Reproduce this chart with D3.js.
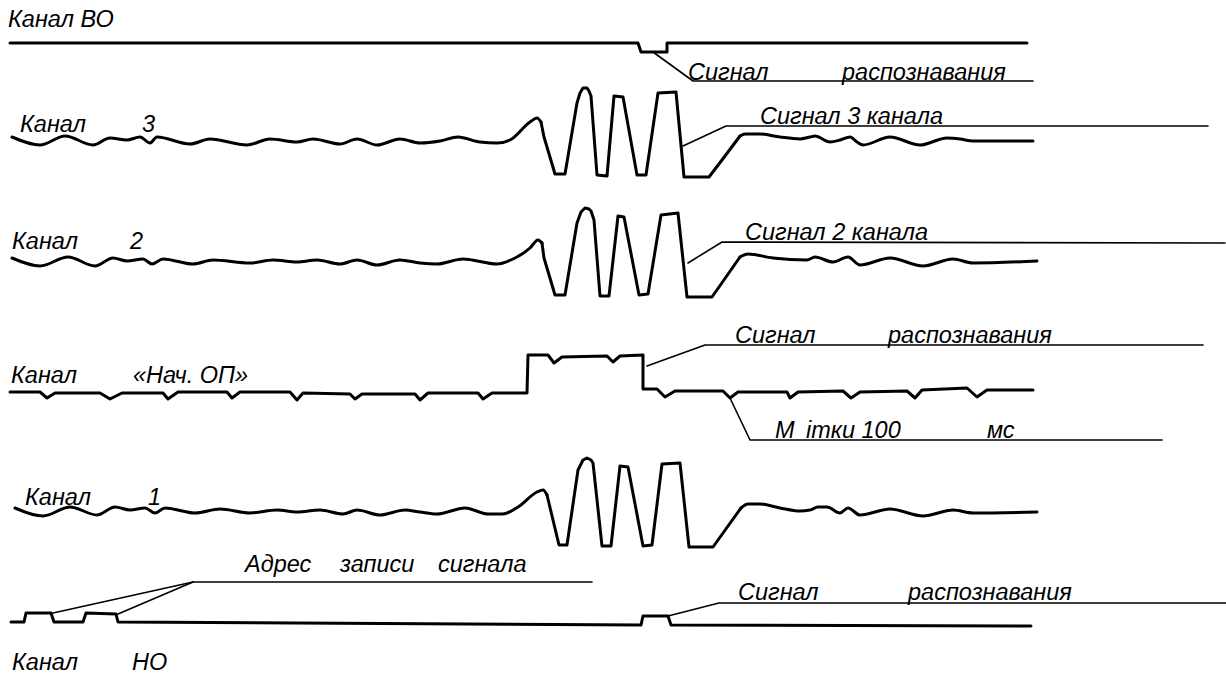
<!DOCTYPE html>
<html>
<head>
<meta charset="utf-8">
<script src="https://cdn.jsdelivr.net/npm/d3@7"></script>
<style>
  html, body { margin: 0; background: #fff; }
  svg text { font-family: "Liberation Sans", Arial, sans-serif; font-style: italic; font-size: 23.5px; fill: #000; }
</style>
</head>
<body>
<div id="view"></div>
<script>
// каналы осциллограммы: [время, амплитуда]
const CHANNELS = ["ВО", "3", "2", "НачОП", "1", "НО"];

const chVO = [[10,0],[638,0],[641,-9],[667,-9],[667,0],[1027,0]];

const ch3 = [[12,4],[40,-4],[65,5],[93,-4],[110,3],[127,1],[140,4],[150,-2],[157,4],[190,-3],[210,2],[247,-4],
  [270,2],[297,-1],[313,2],[340,-3],[357,2],[377,-4],[400,2],[420,-2],[440,0],[458,4],[480,-1],[497,-2],[510,1],
  [530,19],[537,23],[541,19],[544,4],[555,-33],[565,-33],[577,38],[580,48],[583,53],[587,53],[589,50],[591,45],
  [597,-34],[607,-35],[614,45],[623,44],[637,-34],[646,-34],[658,48],[676,49],[684,-36],[709,-36],[722,-19],
  [740,5],[745,7],[760,7],[780,4],[800,2],[810,4],[815,5],[830,-1],[840,1],[850,4],[857,-1],[863,-4],[890,4],
  [920,-4],[947,3],[960,2],[973,0],[1033,0]];

const ch2 = [[12,3],[40,-5],[68,4],[95,-5],[113,3],[127,0],[143,2],[152,-3],[163,2],[193,-3],[213,1],[250,-2],
  [273,1],[297,-1],[317,1],[340,-3],[357,1],[377,-4],[400,1],[420,-2],[437,-3],[463,2],[497,-3],[513,2],[530,13],
  [538,21],[542,18],[544,3],[555,-34],[565,-34],[577,38],[581,49],[585,53],[589,52],[591,50],[594,41],[600,-35],
  [609,-35],[618,45],[624,44],[639,-34],[648,-33],[661,46],[678,48],[687,-36],[712,-36],[740,4],[748,7],[773,3],
  [807,1],[815,4],[833,-1],[848,4],[860,-4],[890,3],[923,-5],[953,2],[973,-2],[1037,0]];

const chStart = [[10,0],[40,0],[47,-6],[55,-1],[100,-1],[110,-7],[122,-1],[163,-1],[168,-7],[178,0],[227,0],
  [232,-6],[240,0],[290,0],[297,-8],[303,-1],[350,-2],[355,-7],[362,-2],[415,-2],[420,-8],[428,-1],[478,-1],
  [483,-7],[492,-1],[527,-1],[528,37],[548,37],[554,29],[562,35],[607,36],[613,30],[620,36],[643,37],[643,3],
  [657,3],[665,-5],[675,1],[723,1],[730,-6],[738,0],[787,0],[790,-6],[798,0],[843,1],[851,-6],[860,0],[907,1],
  [915,-6],[922,2],[967,4],[977,-5],[987,2],[1033,2]];

const ch1 = [[15,3],[43,-5],[70,4],[97,-4],[115,4],[130,1],[145,3],[155,-2],[165,3],[195,-2],[220,2],[250,-2],
  [277,1],[297,-1],[320,1],[343,-3],[357,1],[380,-4],[405,1],[420,-1],[437,-3],[465,3],[488,-3],[503,-3],[518,4],
  [537,19],[543,21],[547,16],[559,-34],[567,-34],[578,41],[583,51],[587,53],[591,51],[593,48],[602,-35],[611,-35],
  [620,45],[628,44],[643,-35],[652,-34],[662,47],[680,48],[689,-36],[713,-36],[741,3],[748,7],[760,7],[780,3],
  [800,0],[810,1],[818,4],[827,4],[840,-2],[848,3],[860,-4],[890,2],[923,-5],[953,1],[973,-2],[1037,-1]];

const chNO = [[11,0],[24,0],[26,9],[51,9],[54,0],[83,0],[86,9],[116,8],[118,0],[641,-3],[643,6],[668,6],[671,-3],[1031,-4]];

const traces = { "ВО": chVO, "3": ch3, "2": ch2, "НачОП": chStart, "1": ch1, "НО": chNO };

// участок пачки импульсов (рисуется ломаной), вне него — плавная кривая
const burst = { "3": [541, 740], "2": [542, 740], "1": [547, 741] };

// подписи каналов: [канал, время, уровень, текст]
const labels = [
  ["ВО", 8, 16, "Канал ВО"],
  ["3", 20, 9, "Канал"], ["3", 142, 9, "3"],
  ["2", 12, 12, "Канал"], ["2", 130, 12, "2"],
  ["НачОП", 11, 9, "Канал"], ["НачОП", 133, 9, "«Нач. ОП»"],
  ["1", 25, 6, "Канал"], ["1", 148, 6, "1"],
  ["НО", 12, -48, "Канал"], ["НО", 132, -48, "НО"]
];

// выноски
const callouts = [
  { ch: "ВО", lines: [[[653,-9],[693,-38],[1033,-38]]], texts: [[688,-37,"Сигнал"],[842,-37,"распознавания"]] },
  { ch: "3", lines: [[[683,-5],[726,15],[1208,15]]], texts: [[760,17,"Сигнал 3 канала"]] },
  { ch: "2", lines: [[[688,-2],[722,19],[1225,18]]], texts: [[745,21,"Сигнал 2 канала"]] },
  { ch: "НачОП", lines: [[[647,26],[705,47],[1203,47]]], texts: [[735,49,"Сигнал"],[888,49,"распознавания"]] },
  { ch: "НачОП", lines: [[[730,-6],[750,-48],[1162,-48]]], texts: [[775,-46,"М"],[806,-46,"ітки 100"],[987,-46,"мс"]] },
  { ch: "НО", lines: [[[53,9],[193,40]],[[118,8],[193,40]],[[193,40],[592,40]]], texts: [[245,50,"Адрес"],[340,50,"записи"],[438,50,"сигнала"]] },
  { ch: "НО", lines: [[[668,6],[719,19],[1226,19]]], texts: [[738,22,"Сигнал"],[908,22,"распознавания"]] }
];

(function () {
  const W = 1226, H = 684;
  const base = { "ВО": 43, "3": 141, "2": 261, "НачОП": 392, "1": 511, "НО": 622 };

  const svg = d3.select("#view").append("svg")
    .attr("width", W).attr("height", H)
    .attr("viewBox", `0 0 ${W} ${H}`);

  const x = d3.scaleLinear().domain([0, W]).range([0, W]);
  const yOf = ch => d3.scaleLinear().domain([-60, 60]).range([base[ch] + 60, base[ch] - 60]);

  const drawPath = (pts, y, curve, sw) => {
    const line = d3.line().x(d => x(d[0])).y(d => y(d[1])).curve(curve);
    svg.append("path")
      .attr("d", line(pts))
      .attr("fill", "none")
      .attr("stroke", "#000")
      .attr("stroke-width", sw)
      .attr("stroke-linejoin", "round")
      .attr("stroke-linecap", "round");
  };

  // трассы
  CHANNELS.forEach(ch => {
    const y = yOf(ch), pts = traces[ch];
    if (burst[ch]) {
      const [b0, b1] = burst[ch];
      drawPath(pts.filter(d => d[0] <= b0), y, d3.curveMonotoneX, 3);
      drawPath(pts.filter(d => d[0] >= b0 && d[0] <= b1), y, d3.curveLinear, 3);
      drawPath(pts.filter(d => d[0] >= b1), y, d3.curveMonotoneX, 3);
    } else {
      drawPath(pts, y, d3.curveLinear, 3);
    }
  });

  // выноски
  callouts.forEach(c => {
    const y = yOf(c.ch);
    c.lines.forEach(pts => drawPath(pts, y, d3.curveLinear, 1.6));
    c.texts.forEach(t => {
      svg.append("text").attr("x", x(t[0])).attr("y", y(t[1])).text(t[2]);
    });
  });

  // подписи каналов
  labels.forEach(l => {
    const y = yOf(l[0]);
    svg.append("text").attr("x", x(l[1])).attr("y", y(l[2])).text(l[3]);
  });
})();
</script>
</body>
</html>
